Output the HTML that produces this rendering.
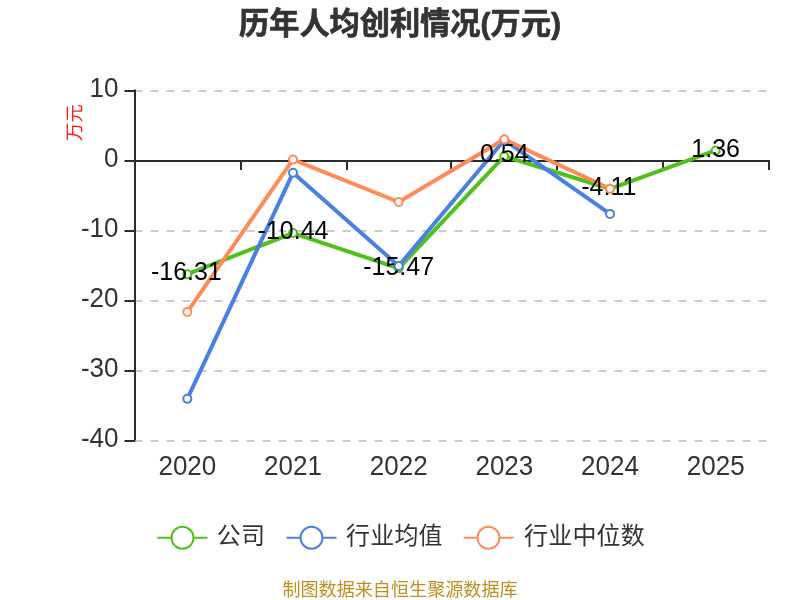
<!DOCTYPE html>
<html lang="zh"><head><meta charset="utf-8"><title>历年人均创利情况(万元)</title>
<style>
html,body{margin:0;padding:0;background:#fff;width:800px;height:600px;overflow:hidden}
svg{display:block;position:absolute;left:0;top:0;will-change:transform}
svg text{font-family:"Liberation Sans","Noto Sans CJK SC",sans-serif}
.ax{font-size:26px;fill:#333}
.yn{font-size:18.4px;fill:#ff1f1f}
.lb{font-size:25px;fill:#000}
.tt{font-size:30.2px;font-weight:bold;fill:#333;stroke:#333;stroke-width:0.7px;stroke-linejoin:round}
.lg{font-size:24px;fill:#333;letter-spacing:0.2px}
.ft{font-size:18.1px;fill:#c08f20}
</style></head><body>
<svg width="800" height="600" viewBox="0 0 800 600">
<line x1="134.5" x2="769.0" y1="91" y2="91" stroke="#ccc" stroke-width="2" stroke-dasharray="8 8"/>
<line x1="134.5" x2="769.0" y1="231" y2="231" stroke="#ccc" stroke-width="2" stroke-dasharray="8 8"/>
<line x1="134.5" x2="769.0" y1="301" y2="301" stroke="#ccc" stroke-width="2" stroke-dasharray="8 8"/>
<line x1="134.5" x2="769.0" y1="371" y2="371" stroke="#ccc" stroke-width="2" stroke-dasharray="8 8"/>
<line x1="134.5" x2="769.0" y1="441" y2="441" stroke="#ccc" stroke-width="2" stroke-dasharray="8 8"/>
<line x1="135" x2="135" y1="89.5" y2="440.5" stroke="#2b2b2b" stroke-width="2"/>
<line x1="124.5" x2="135" y1="91" y2="91" stroke="#2b2b2b" stroke-width="2"/>
<line x1="124.5" x2="135" y1="161" y2="161" stroke="#2b2b2b" stroke-width="2"/>
<line x1="124.5" x2="135" y1="231" y2="231" stroke="#2b2b2b" stroke-width="2"/>
<line x1="124.5" x2="135" y1="301" y2="301" stroke="#2b2b2b" stroke-width="2"/>
<line x1="124.5" x2="135" y1="371" y2="371" stroke="#2b2b2b" stroke-width="2"/>
<line x1="124.5" x2="135" y1="441" y2="441" stroke="#2b2b2b" stroke-width="2"/>
<line x1="134" x2="770" y1="161" y2="161" stroke="#2b2b2b" stroke-width="2"/>
<line x1="135" x2="135" y1="161" y2="170" stroke="#2b2b2b" stroke-width="2"/>
<line x1="241" x2="241" y1="161" y2="170" stroke="#2b2b2b" stroke-width="2"/>
<line x1="347" x2="347" y1="161" y2="170" stroke="#2b2b2b" stroke-width="2"/>
<line x1="451" x2="451" y1="161" y2="170" stroke="#2b2b2b" stroke-width="2"/>
<line x1="557" x2="557" y1="161" y2="170" stroke="#2b2b2b" stroke-width="2"/>
<line x1="663" x2="663" y1="161" y2="170" stroke="#2b2b2b" stroke-width="2"/>
<line x1="769" x2="769" y1="161" y2="170" stroke="#2b2b2b" stroke-width="2"/>
<text transform="translate(118.5,87.5) scale(1,1.06)" class="ax" text-anchor="end" dominant-baseline="central">10</text>
<text transform="translate(118.5,157.5) scale(1,1.06)" class="ax" text-anchor="end" dominant-baseline="central">0</text>
<text transform="translate(118.5,227.5) scale(1,1.06)" class="ax" text-anchor="end" dominant-baseline="central">-10</text>
<text transform="translate(118.5,297.5) scale(1,1.06)" class="ax" text-anchor="end" dominant-baseline="central">-20</text>
<text transform="translate(118.5,367.5) scale(1,1.06)" class="ax" text-anchor="end" dominant-baseline="central">-30</text>
<text transform="translate(118.5,437.5) scale(1,1.06)" class="ax" text-anchor="end" dominant-baseline="central">-40</text>
<text transform="translate(187.33,465.5) scale(1,1.06)" class="ax" text-anchor="middle" dominant-baseline="central">2020</text>
<text transform="translate(293.00,465.5) scale(1,1.06)" class="ax" text-anchor="middle" dominant-baseline="central">2021</text>
<text transform="translate(398.67,465.5) scale(1,1.06)" class="ax" text-anchor="middle" dominant-baseline="central">2022</text>
<text transform="translate(504.33,465.5) scale(1,1.06)" class="ax" text-anchor="middle" dominant-baseline="central">2023</text>
<text transform="translate(610.00,465.5) scale(1,1.06)" class="ax" text-anchor="middle" dominant-baseline="central">2024</text>
<text transform="translate(715.67,465.5) scale(1,1.06)" class="ax" text-anchor="middle" dominant-baseline="central">2025</text>
<text transform="translate(74,122.5) rotate(-90)" text-anchor="middle" dominant-baseline="central" class="yn">万元</text>
<polyline points="187.33,274.17 293.00,233.08 398.67,268.29 504.33,156.22 610.00,188.77 715.67,150.48" fill="none" stroke="#50c01c" stroke-width="4" stroke-linejoin="bevel"/>
<polyline points="187.33,398.84 293.00,172.81 398.67,265.98 504.33,140.05 610.00,213.90" fill="none" stroke="#4a80e2" stroke-width="4" stroke-linejoin="bevel"/>
<polyline points="187.33,311.90 293.00,159.58 398.67,202.00 504.33,139.21 610.00,188.70" fill="none" stroke="#ff8c58" stroke-width="4" stroke-linejoin="bevel"/>
<circle cx="187.33" cy="274.17" r="4" fill="#fff" stroke="#50c01c" stroke-width="2"/>
<text transform="translate(186.33,271.17) scale(1,1.06)" class="lb" text-anchor="middle" dominant-baseline="central">-16.31</text>
<circle cx="293.00" cy="233.08" r="4" fill="#fff" stroke="#50c01c" stroke-width="2"/>
<text transform="translate(293.00,230.08) scale(1,1.06)" class="lb" text-anchor="middle" dominant-baseline="central">-10.44</text>
<circle cx="398.67" cy="268.29" r="4" fill="#fff" stroke="#50c01c" stroke-width="2"/>
<text transform="translate(398.67,265.29) scale(1,1.06)" class="lb" text-anchor="middle" dominant-baseline="central">-15.47</text>
<circle cx="504.33" cy="156.22" r="4" fill="#fff" stroke="#50c01c" stroke-width="2"/>
<text transform="translate(504.33,153.22) scale(1,1.06)" class="lb" text-anchor="middle" dominant-baseline="central">0.54</text>
<circle cx="610.00" cy="188.77" r="4" fill="#fff" stroke="#50c01c" stroke-width="2"/>
<text transform="translate(608.80,185.77) scale(1,1.06)" class="lb" text-anchor="middle" dominant-baseline="central">-4.11</text>
<circle cx="715.67" cy="150.48" r="4" fill="#fff" stroke="#50c01c" stroke-width="2"/>
<text transform="translate(715.67,147.48) scale(1,1.06)" class="lb" text-anchor="middle" dominant-baseline="central">1.36</text>
<circle cx="187.33" cy="398.84" r="4" fill="#fff" stroke="#4a80e2" stroke-width="2"/>
<circle cx="293.00" cy="172.81" r="4" fill="#fff" stroke="#4a80e2" stroke-width="2"/>
<circle cx="398.67" cy="265.98" r="4" fill="#fff" stroke="#4a80e2" stroke-width="2"/>
<circle cx="504.33" cy="140.05" r="4" fill="#fff" stroke="#4a80e2" stroke-width="2"/>
<circle cx="610.00" cy="213.90" r="4" fill="#fff" stroke="#4a80e2" stroke-width="2"/>
<circle cx="187.33" cy="311.90" r="4" fill="#fff" stroke="#ff8c58" stroke-width="2"/>
<circle cx="293.00" cy="159.58" r="4" fill="#fff" stroke="#ff8c58" stroke-width="2"/>
<circle cx="398.67" cy="202.00" r="4" fill="#fff" stroke="#ff8c58" stroke-width="2"/>
<circle cx="504.33" cy="139.21" r="4" fill="#fff" stroke="#ff8c58" stroke-width="2"/>
<circle cx="610.00" cy="188.70" r="4" fill="#fff" stroke="#ff8c58" stroke-width="2"/>
<text x="400" y="23" class="tt" text-anchor="middle" dominant-baseline="central">历年人均创利情况(万元)</text>
<line x1="157.5" x2="207.5" y1="537.8" y2="537.8" stroke="#50c01c" stroke-width="2"/>
<circle cx="182.5" cy="537.8" r="11" fill="#fff" stroke="#50c01c" stroke-width="2"/>
<text x="216.7" y="535.6" class="lg" dominant-baseline="central">公司</text>
<line x1="286.5" x2="336.5" y1="537.8" y2="537.8" stroke="#4a80e2" stroke-width="2"/>
<circle cx="311.5" cy="537.8" r="11" fill="#fff" stroke="#4a80e2" stroke-width="2"/>
<text x="346" y="535.6" class="lg" dominant-baseline="central">行业均值</text>
<line x1="463.5" x2="513.5" y1="537.8" y2="537.8" stroke="#ff8c58" stroke-width="2"/>
<circle cx="488.5" cy="537.8" r="11" fill="#fff" stroke="#ff8c58" stroke-width="2"/>
<text x="524" y="535.6" class="lg" dominant-baseline="central">行业中位数</text>
<text x="400" y="590.3" class="ft" text-anchor="middle" dominant-baseline="central">制图数据来自恒生聚源数据库</text>
</svg>
</body></html>
